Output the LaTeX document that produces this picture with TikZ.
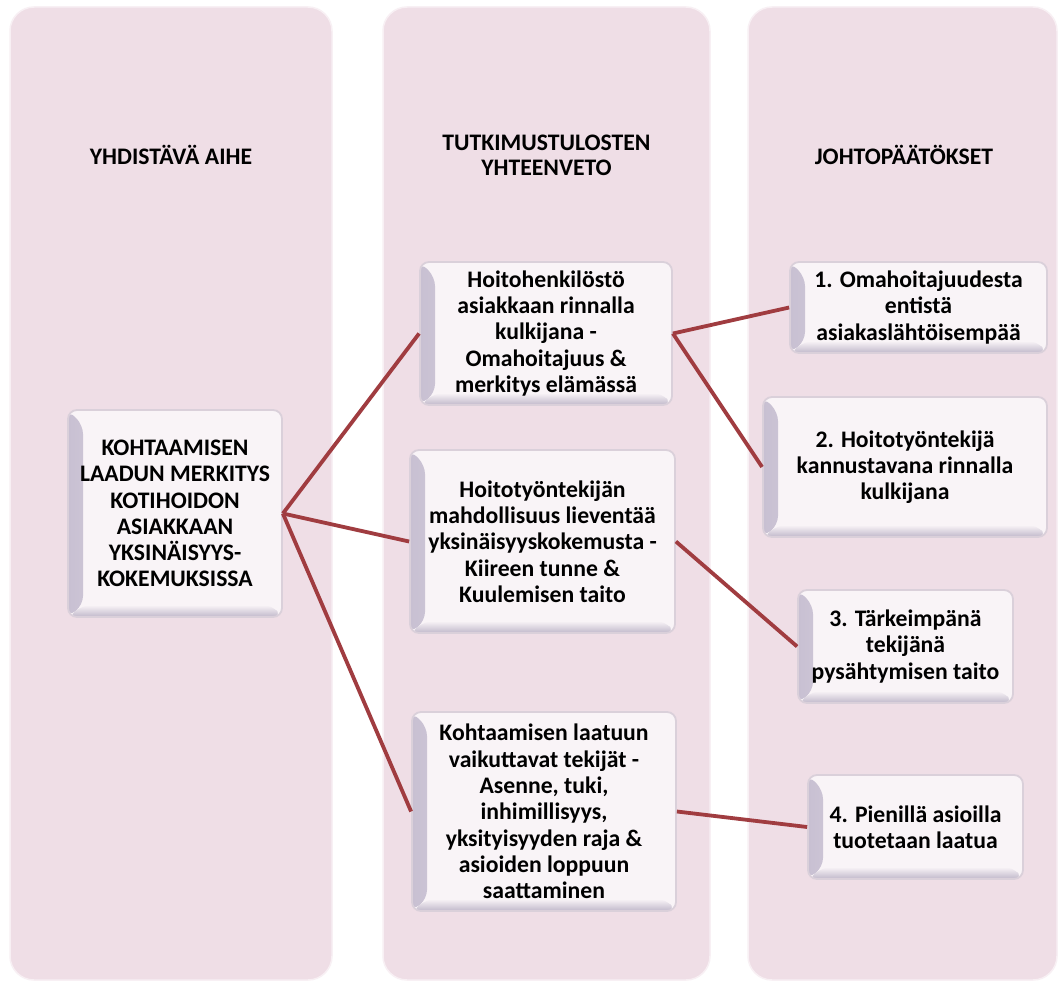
\documentclass[tikz,border=0pt]{standalone}
\usepackage{fontspec}
\setmainfont{Carlito}
\usetikzlibrary{calc}
\definecolor{colc}{RGB}{239,222,230}
\definecolor{coledge}{RGB}{248,240,244}
\definecolor{boxc}{RGB}{249,244,247}
\definecolor{bevc}{RGB}{200,192,210}
\definecolor{bevb}{RGB}{192,184,202}
\definecolor{linec}{RGB}{160,60,64}
\definecolor{edgec}{RGB}{218,208,218}
\tikzset{
  column/.style={fill=colc, draw=coledge, line width=1.5, rounded corners=24},
  header/.style={font=\fontsize{23.7}{25}\selectfont\bfseries, align=center, inner sep=0},
  card/.style={draw=edgec, line width=1.8, fill=boxc, rounded corners=9, inner sep=0,
    align=center, font=\fontsize{23.7}{26.3}\selectfont\bfseries,
    path picture={
      \shade[left color=bevc, right color=boxc]
        (path picture bounding box.south west) -- (path picture bounding box.north west)
        -- ([shift={(15pt,-15pt)}]path picture bounding box.north west)
        -- ([shift={(15pt,12pt)}]path picture bounding box.south west) -- cycle;
      \shade[bottom color=bevb, top color=boxc]
        (path picture bounding box.south west) -- (path picture bounding box.south east)
        -- ([shift={(-10pt,12pt)}]path picture bounding box.south east)
        -- ([shift={(15pt,12pt)}]path picture bounding box.south west) -- cycle;
    }},
  link/.style={draw=linec, line width=3.8},
}
\begin{document}
\begin{tikzpicture}[x=1pt, y=-1pt]
\useasboundingbox (0,0) rectangle (1058,982);
\fill[white] (0,0) rectangle (1058,982);
% columns
\draw[column] (10,7) rectangle (332,980);
\draw[column] (383,7) rectangle (710,980);
\draw[column] (748,7) rectangle (1057,980);
% headers
\node[header] (h1) at (171,155) {YHDIST\"AV\"A AIHE};
\node[header] (h2) at (546.5,155.5) {TUTKIMUSTULOSTEN\\YHTEENVETO};
\node[header] (h3) at (904,155) {JOHTOP\"A\"AT\"OKSET};
% cards
\node[card, minimum width=214, minimum height=207] (main) at (175,513.5)
  {KOHTAAMISEN\\LAADUN MERKITYS\\KOTIHOIDON\\ASIAKKAAN\\YKSIN\"AISYYS-\\KOKEMUKSISSA};
\node[card, minimum width=252, minimum height=143] (b1) at (546,333.5)
  {Hoitohenkil\"ost\"o\\asiakkaan rinnalla\\kulkijana -\\Omahoitajuus \&\\merkitys el\"am\"ass\"a};
\node[card, minimum width=265, minimum height=183] (b2) at (542.5,541.5)
  {Hoitoty\"ontekij\"an\\mahdollisuus lievent\"a\"a\\yksin\"aisyyskokemusta -\\Kiireen tunne \&\\Kuulemisen taito};
\node[card, minimum width=264, minimum height=199] (b3) at (544,811.5)
  {Kohtaamisen laatuun\\vaikuttavat tekij\"at -\\Asenne, tuki,\\inhimillisyys,\\yksityisyyden raja \&\\asioiden loppuun\\saattaminen};
\node[card, minimum width=257, minimum height=91] (r1) at (918.5,307.5)
  {1. Omahoitajuudesta\\entist\"a\\asiakasl\"aht\"oisemp\"a\"a};
\node[card, minimum width=284, minimum height=140] (r2) at (905,467)
  {2. Hoitoty\"ontekij\"a\\kannustavana rinnalla\\kulkijana};
\node[card, minimum width=215, minimum height=113] (r3) at (905.5,646.5)
  {3. T\"arkeimp\"an\"a\\tekij\"an\"a\\pys\"ahtymisen taito};
\node[card, minimum width=215, minimum height=104] (r4) at (915.5,827)
  {4. Pienill\"a asioilla\\tuotetaan laatua};
% links
\draw[link] (main.east) -- (b1.west);
\draw[link] (main.east) -- (b2.west);
\draw[link] (main.east) -- (b3.west);
\draw[link] (b1.east) -- (r1.west);
\draw[link] (b1.east) -- (r2.west);
\draw[link] (b2.east) -- (r3.west);
\draw[link] (b3.east) -- (r4.west);
\end{tikzpicture}
\end{document}
